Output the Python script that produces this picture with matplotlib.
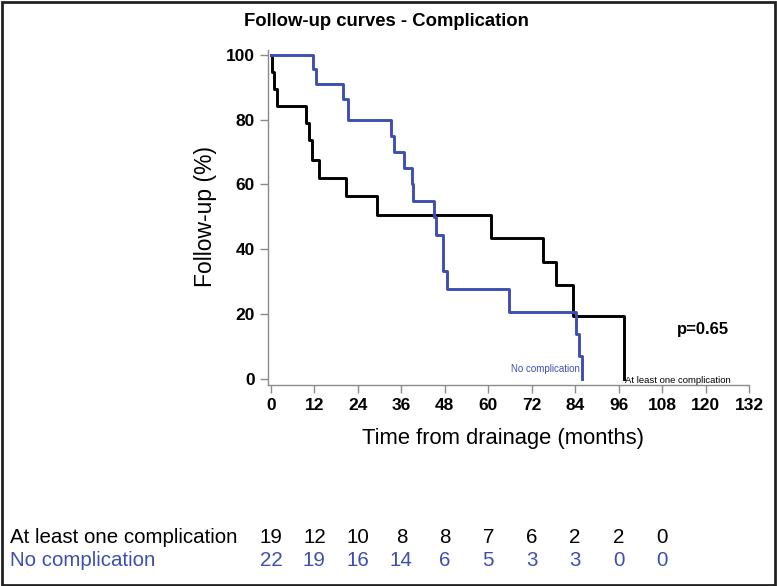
import numpy as np
import matplotlib
matplotlib.use("Agg")
import matplotlib.pyplot as plt
from matplotlib.patches import Rectangle
from matplotlib.transforms import blended_transform_factory

plt.rcParams['font.family'] = ['Liberation Sans', 'DejaVu Sans']

# Kaplan-Meier steps (months, % still followed)
comp_t = [0, 0.2, 0.8, 1.6, 9.7, 10.6, 11.2, 13.3, 20.7, 29.2, 60.8, 75.2, 78.7, 83.3, 97.6]
comp_s = [100, 94.7, 89.5, 84.2, 78.9, 73.7, 67.6, 62.0, 56.4, 50.7, 43.4, 36.2, 28.9, 19.5, 0]

nocomp_t = [0, 11.7, 12.3, 19.8, 21.4, 33.1, 34.1, 36.8, 38.9, 39.1, 45.0, 45.6, 47.6, 48.7,
            65.8, 84.2, 85.1, 86.0]
nocomp_s = [100, 95.5, 90.9, 86.4, 80.0, 75.0, 70.0, 65.0, 60.0, 55.0, 50.0, 44.5, 33.3, 27.9,
            20.7, 13.8, 7.2, 0]

# numbers at risk
risk_times = [0, 12, 24, 36, 48, 60, 72, 84, 96, 108]
risk_comp = [19, 12, 10, 8, 8, 7, 6, 2, 2, 0]
risk_nocomp = [22, 19, 16, 14, 6, 5, 3, 3, 0, 0]

xticks = np.arange(0, 133, 12)
yticks = [0, 20, 40, 60, 80, 100]

blue = '#3d4fb0'
gray = '#8a8a8a'

fig = plt.figure(figsize=(7.77, 5.86), dpi=100)
fig.patches.append(Rectangle((0.002, 0.002), 0.995, 0.995, transform=fig.transFigure,
                             fill=False, edgecolor='#222222', linewidth=2))

ax = fig.add_axes([0.345, 0.343, 0.619, 0.572])
ax.step(comp_t, comp_s, where='post', color='black', lw=2.1)
ax.step(nocomp_t, nocomp_s, where='post', color=blue, lw=2.1)

ax.set_xlim(-0.8, 132)
ax.set_ylim(-1.8, 101.5)
ax.set_xticks(xticks)
ax.set_yticks(yticks)
for s in ['top', 'right']:
    ax.spines[s].set_visible(False)
for s in ['left', 'bottom']:
    ax.spines[s].set_color(gray)
    ax.spines[s].set_linewidth(1)
ax.tick_params(colors=gray, length=6, width=1, labelcolor='black', labelsize=12.5)
for lab in ax.get_xticklabels() + ax.get_yticklabels():
    lab.set_fontweight('bold')

ax.text(85.4, 3, 'No complication', color=blue, fontsize=7, ha='right', va='center')
ax.text(97.8, -0.3, 'At least one complication', color='black', fontsize=6.8,
        ha='left', va='center')
ax.text(112, 15.3, 'p=0.65', fontsize=12, fontweight='bold', ha='left', va='center')

fig.text(0.497, 0.964, 'Follow-up curves - Complication', fontsize=13.3, fontweight='bold',
         ha='center', va='center')
fig.text(0.265, 0.63, 'Follow-up (%)', fontsize=16.5, rotation=90, ha='center', va='center')
fig.text(0.647, 0.252, 'Time from drainage (months)', fontsize=15.8, ha='center', va='center')

# risk table, numbers lined up with the time ticks
tr = blended_transform_factory(ax.transData, fig.transFigure)
fig.text(0.013, 0.082, 'At least one complication', fontsize=14.8, ha='left', va='center')
fig.text(0.013, 0.044, 'No complication', fontsize=14.8, ha='left', va='center', color=blue)
for t, a, b in zip(risk_times, risk_comp, risk_nocomp):
    fig.text(t, 0.082, str(a), fontsize=14.8, ha='center', va='center', transform=tr)
    fig.text(t, 0.044, str(b), fontsize=14.8, ha='center', va='center', transform=tr,
             color=blue)

fig.savefig('out.png', dpi=100)
